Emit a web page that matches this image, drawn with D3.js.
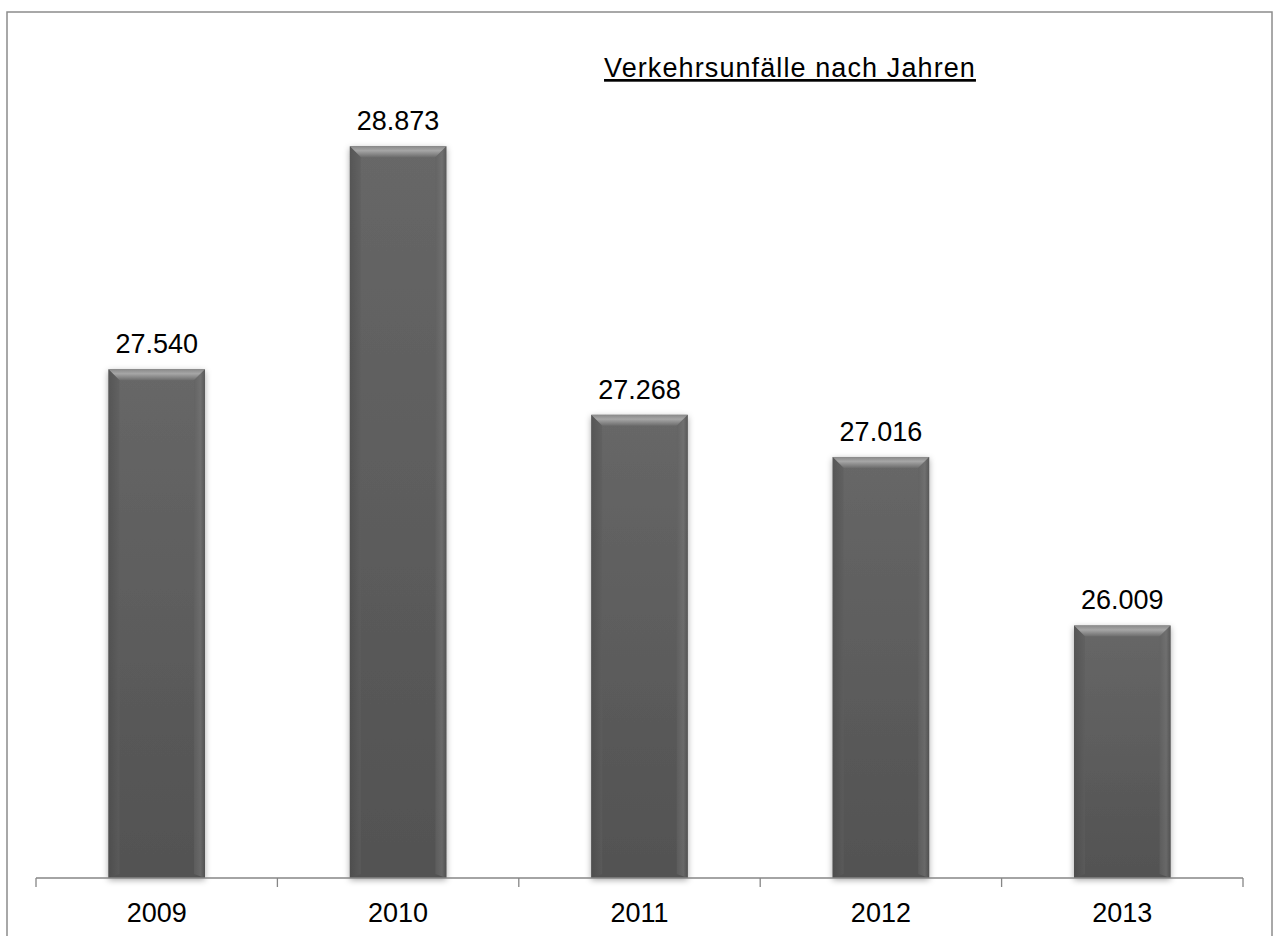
<!DOCTYPE html>
<html>
<head>
<meta charset="utf-8">
<script src="https://cdn.jsdelivr.net/npm/d3@7"></script>
<style>
  body { margin: 0; background: #fff; }
  svg { display: block; font-family: "Liberation Sans", Arial, sans-serif; }
</style>
</head>
<body>
<div id="chart"></div>
<script>
// data
var years = ["2009", "2010", "2011", "2012", "2013"]
var accidents = [27540, 28873, 27268, 27016, 26009]
var title = "Verkehrsunfälle nach Jahren"

var width = 1277, height = 936

var svg = d3.select("#chart").append("svg")
  .attr("width", width)
  .attr("height", height)

var de = d3.formatLocale({ decimal: ",", thousands: ".", grouping: [3], currency: ["", " €"] })
var fmt = de.format(",d")

// scales
var x = d3.scaleBand()
  .domain(years)
  .range([36, 1243])
  .paddingInner(0.6)
  .paddingOuter(0.3)

var y = d3.scaleLinear()
  .domain([24500, 29000])
  .range([878, 125])

// defs: gradients + shadow
var defs = svg.append("defs")

var face = defs.append("linearGradient").attr("id", "face")
  .attr("x1", 0).attr("y1", 0).attr("x2", 0).attr("y2", 1)
face.append("stop").attr("offset", "0%").attr("stop-color", "#676767")
face.append("stop").attr("offset", "100%").attr("stop-color", "#525252")

var topBev = defs.append("linearGradient").attr("id", "topBev")
  .attr("x1", 0).attr("y1", 0).attr("x2", 0).attr("y2", 1)
topBev.append("stop").attr("offset", "0%").attr("stop-color", "#8a8a8a")
topBev.append("stop").attr("offset", "40%").attr("stop-color", "#a6a6a6")
topBev.append("stop").attr("offset", "100%").attr("stop-color", "#6c6c6c")

var leftBev = defs.append("linearGradient").attr("id", "leftBev")
  .attr("x1", 0).attr("y1", 0).attr("x2", 1).attr("y2", 0)
leftBev.append("stop").attr("offset", "0%").attr("stop-color", "#4a4a4a")
leftBev.append("stop").attr("offset", "100%").attr("stop-color", "#5e5e5e")

var rightBev = defs.append("linearGradient").attr("id", "rightBev")
  .attr("x1", 0).attr("y1", 0).attr("x2", 1).attr("y2", 0)
rightBev.append("stop").attr("offset", "0%").attr("stop-color", "#626262")
rightBev.append("stop").attr("offset", "60%").attr("stop-color", "#767676")
rightBev.append("stop").attr("offset", "100%").attr("stop-color", "#4e4e4e")

var shadow = defs.append("filter").attr("id", "shadow")
  .attr("x", "-20%").attr("y", "-5%").attr("width", "140%").attr("height", "115%")
shadow.append("feDropShadow")
  .attr("dx", 0).attr("dy", 2)
  .attr("stdDeviation", 3)
  .attr("flood-color", "#000")
  .attr("flood-opacity", 0.35)

// outer frame
svg.append("rect")
  .attr("x", 7).attr("y", 12)
  .attr("width", 1265).attr("height", 940)
  .attr("fill", "none")
  .attr("stroke", "#8c8c8c")
  .attr("stroke-width", 1.5)

// title
svg.append("text")
  .attr("x", 790)
  .attr("y", 77)
  .attr("text-anchor", "middle")
  .style("font-size", "27px")
  .style("letter-spacing", "1.1px")
  .style("text-decoration", "underline")
  .attr("fill", "#000")
  .text(title)

var data = years.map(function (d, i) { return { year: d, n: accidents[i] } })
var bev = 11

// bars
var bars = svg.append("g").selectAll("g")
  .data(data)
  .enter()
  .append("g")
  .attr("transform", function (d) { return "translate(" + x(d.year) + "," + y(d.n) + ")" })

bars.append("rect")
  .attr("width", x.bandwidth())
  .attr("height", function (d) { return y.range()[0] - y(d.n) })
  .attr("fill", "url(#face)")
  .attr("filter", "url(#shadow)")

bars.append("path")
  .attr("d", function (d) {
    var w = x.bandwidth()
    return "M0,0 L" + w + ",0 L" + (w - bev) + "," + bev + " L" + bev + "," + bev + " Z"
  })
  .attr("fill", "url(#topBev)")

bars.append("path")
  .attr("d", function (d) {
    var h = y.range()[0] - y(d.n)
    return "M0,0 L" + bev + "," + bev + " L" + bev + "," + (h - 4) + " L0," + h + " Z"
  })
  .attr("fill", "url(#leftBev)")
  .attr("opacity", 0.6)

bars.append("path")
  .attr("d", function (d) {
    var w = x.bandwidth(), h = y.range()[0] - y(d.n)
    return "M" + w + ",0 L" + (w - bev) + "," + bev + " L" + (w - bev) + "," + (h - 4) + " L" + w + "," + h + " Z"
  })
  .attr("fill", "url(#rightBev)")
  .attr("opacity", 0.6)

// value labels
svg.append("g").selectAll("text")
  .data(data)
  .enter()
  .append("text")
  .attr("x", function (d) { return x(d.year) + x.bandwidth() / 2 })
  .attr("y", function (d) { return y(d.n) - 16 })
  .attr("text-anchor", "middle")
  .style("font-size", "27px")
  .attr("fill", "#000")
  .text(function (d) { return fmt(d.n) })

// x axis: labels from the band scale, ticks on the category boundaries
var axisG = svg.append("g")
  .attr("transform", "translate(0," + y.range()[0] + ")")
  .call(d3.axisBottom(x).tickSize(0).tickPadding(0))

axisG.select(".domain").remove()
axisG.selectAll("text")
  .attr("dy", null)
  .attr("y", 44)
  .style("font-size", "27px")
  .style("font-family", "Liberation Sans, Arial, sans-serif")
  .attr("fill", "#000")

var gap = (x.step() - x.bandwidth()) / 2
var bounds = years.map(function (d) { return x(d) - gap })
bounds.push(x(years[years.length - 1]) + x.bandwidth() + gap)

axisG.append("line")
  .attr("x1", bounds[0]).attr("x2", bounds[bounds.length - 1])
  .attr("y1", 0).attr("y2", 0)
  .attr("stroke", "#868686")
  .attr("stroke-width", 1.3)

axisG.selectAll(".bound")
  .data(bounds)
  .enter()
  .append("line")
  .attr("class", "bound")
  .attr("x1", function (d) { return d }).attr("x2", function (d) { return d })
  .attr("y1", 0).attr("y2", 9)
  .attr("stroke", "#868686")
  .attr("stroke-width", 1.3)
</script>
</body>
</html>
